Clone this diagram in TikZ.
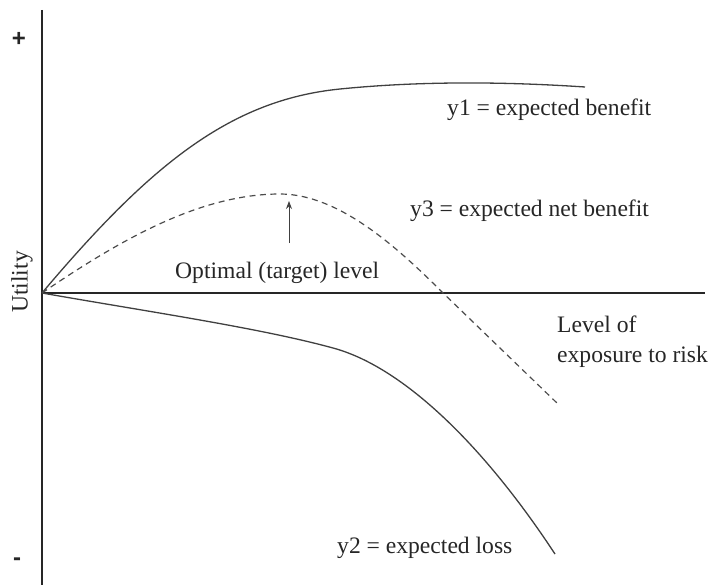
\documentclass[tikz,border=0pt]{standalone}
\usepackage{fontspec}
\setmainfont{Liberation Serif}
\setsansfont{Liberation Sans}
\usetikzlibrary{arrows.meta}
\begin{document}
\begin{tikzpicture}[x=1pt,y=-1pt,
  lbl/.style={inner sep=0pt,anchor=base west,font=\fontsize{23.6}{28}\selectfont,text=black!85},
  sign/.style={inner sep=0pt,anchor=center,font=\fontsize{24}{28}\selectfont\sffamily\bfseries,text=black!85},
  axisline/.style={line width=1.8pt,draw=black!85},
  curve/.style={line width=1.3pt,draw=black!75},
  dcurve/.style={line width=1.2pt,draw=black!70,dash pattern=on 6pt off 4.5pt}]
\useasboundingbox (0,0) rectangle (713,586);
% axes
\coordinate (O) at (42,293);
\coordinate (ytop) at (42,10);
\coordinate (ybot) at (42,585);
\coordinate (xend) at (705,293);
\draw[axisline] (ytop) -- (ybot);
\draw[axisline] (O) -- (xend);
% axis labels
\node[sign] (plus) at (19,39) {+};
\node[sign] (minus) at (17,562) {-};
\node[lbl,anchor=center,rotate=90] (util) at (22,282) {Utility};
% y1
\draw[curve] (O) .. controls (150,165) and (230,100) .. (340,89)
  .. controls (400,83) and (480,80) .. (585,87);
% y3
\draw[dcurve] (O) .. controls (120,240) and (200,194) .. (280,194)
  .. controls (340,194) and (400,250) .. (443,293) -- (558,404);
% y2
\draw[curve] (O) .. controls (150,312) and (260,328) .. (333,348)
  .. controls (400,366) and (480,440) .. (555,554);
% labels
\node[lbl] (y1) at (447,116) {y1 = expected benefit};
\node[lbl] (y3) at (410,216) {y3 = expected net benefit};
\node[lbl] (opt) at (175,278) {Optimal (target) level};
\node[lbl] (lev1) at (557,332) {Level of};
\node[lbl] (lev2) at (557,362) {exposure to risk};
\node[lbl] (y2) at (337,553) {y2 = expected loss};
% arrow
\coordinate (atail) at (289,243);
\coordinate (ahead) at (289,201);
\draw[line width=1pt,draw=black!75,-{Stealth[length=8pt,width=6pt]}] (atail) -- (ahead);
\end{tikzpicture}
\end{document}
